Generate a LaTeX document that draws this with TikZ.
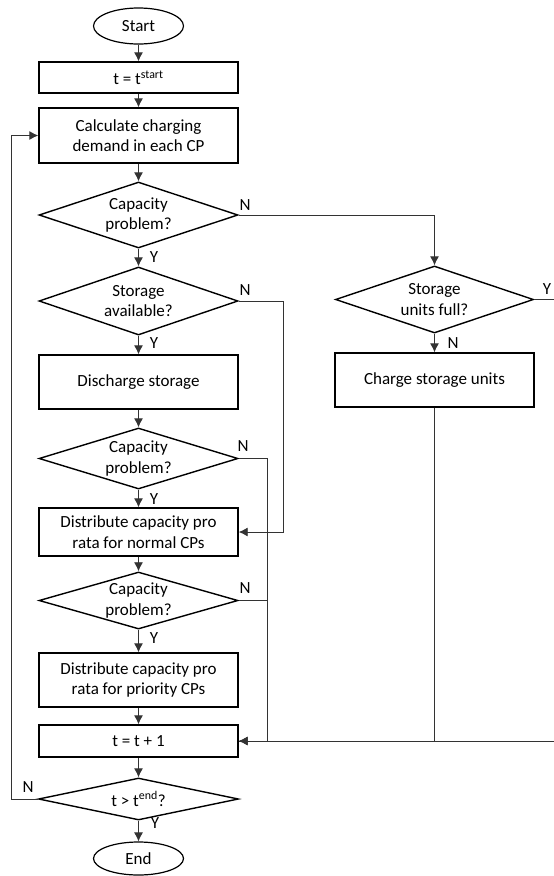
\documentclass[tikz,border=0pt]{standalone}
\usepackage{fontspec}
\setmainfont{Carlito}
\usetikzlibrary{arrows.meta,positioning,shapes.geometric}
\tikzset{
  proc/.style     = {draw, line width=1.4pt, rectangle, minimum width=199pt,
                     align=center, inner sep=2pt},
  decision/.style = {draw, line width=1.4pt, diamond, aspect=3, inner sep=0pt,
                     minimum width=199pt, align=center},
  terminal/.style = {draw, line width=1.2pt, ellipse, minimum width=90pt,
                     minimum height=36pt, inner sep=0pt},
  flow/.style     = {-{Latex[length=9pt,width=9pt]}, line width=0.9pt, black!80},
  conn/.style     = {line width=0.9pt, black!80},
  tag/.style      = {inner sep=0pt},
}
\begin{document}
\begin{tikzpicture}[x=1pt, y=-1pt, font=\fontsize{17}{20.5}\selectfont]
\useasboundingbox (0,0) rectangle (554,876);
\clip (0,0) rectangle (554,876);
% ---------------- main column ----------------
\node[terminal] (start) at (138.5,26) {Start};
\node[proc, minimum height=31pt] (tinit) at (138.5,77.5) {t = t\textsuperscript{start}};
\node[proc, minimum height=55pt] (calc) at (138.5,135.5) {Calculate charging\\demand in each CP};
\node[decision, minimum height=66pt] (cap1) at (138.5,215) {Capacity\\problem?};
\node[decision, minimum height=68pt] (stav) at (138.5,301) {Storage\\available?};
\node[proc, minimum height=54pt] (disch) at (138.5,382) {Discharge storage};
\node[decision, minimum height=61pt] (cap2) at (138.5,458.5) {Capacity\\problem?};
\node[proc, minimum height=48pt] (distn) at (138.5,532) {Distribute capacity pro\\rata for normal CPs};
\node[decision, minimum height=55pt] (cap3) at (138.5,600.5) {Capacity\\problem?};
\node[proc, minimum height=54pt] (distp) at (138.5,680) {Distribute capacity pro\\rata for priority CPs};
\node[proc, minimum height=32pt] (tinc) at (138.5,741) {t = t + 1};
\node[decision, minimum height=42pt, minimum width=200pt] (tend) at (138.5,799) {t > t\textsuperscript{end}?};
\node[terminal, minimum height=33pt] (stop) at (138.5,858.5) {End};
% ---------------- storage charging branch ----------------
\node[decision, minimum height=67pt, minimum width=198pt] (sfull) at (434.5,299.5) {Storage\\units full?};
\node[proc, minimum height=54pt] (chg) at (434.5,380) {Charge storage units};
\draw[flow] (start) -- (tinit);
\draw[flow] (tinit) -- (calc);
\draw[flow] (calc) -- (cap1);
\draw[flow] (cap1) -- (stav);
\draw[flow] (stav) -- (disch);
\draw[flow] (disch) -- (cap2);
\draw[flow] (cap2) -- (distn);
\draw[flow] (distn) -- (cap3);
\draw[flow] (cap3) -- (distp);
\draw[flow] (distp) -- (tinc);
\draw[flow] (tinc) -- (tend);
\draw[flow] (tend) -- (stop);
\draw[flow] (sfull) -- (chg);
% side branches
\coordinate (nb1) at (283,301);
\coordinate (nb2) at (267,458.5);
\coordinate (back) at (11,799);
\coordinate (yout) at (580,299.5);
\draw[flow] (cap1.east) -| (sfull.north);
\draw[flow] (stav.east) -- (nb1) |- (distn.east);
\draw[flow] (cap2.east) -- (nb2) |- (tinc.east);
\draw[conn] (cap3.east) -- (cap3.east -| nb2);
\draw[flow] (chg.south) |- (tinc.east);
\draw[conn] (sfull.east) -- (yout) |- (tinc.east);
\draw[flow] (tend.west) -- (back) |- (calc.west);
% branch labels
\node[tag] at (154,257) {Y};
\node[tag] at (154,343) {Y};
\node[tag] at (154,499) {Y};
\node[tag] at (154,638) {Y};
\node[tag] at (155,823) {Y};
\node[tag] at (453,343) {N};
\node[tag] at (245,205) {N};
\node[tag] at (245,290) {N};
\node[tag] at (243,446) {N};
\node[tag] at (245,588) {N};
\node[tag] at (28,787) {N};
\node[tag] at (547,289) {Y};
\end{tikzpicture}
\end{document}
